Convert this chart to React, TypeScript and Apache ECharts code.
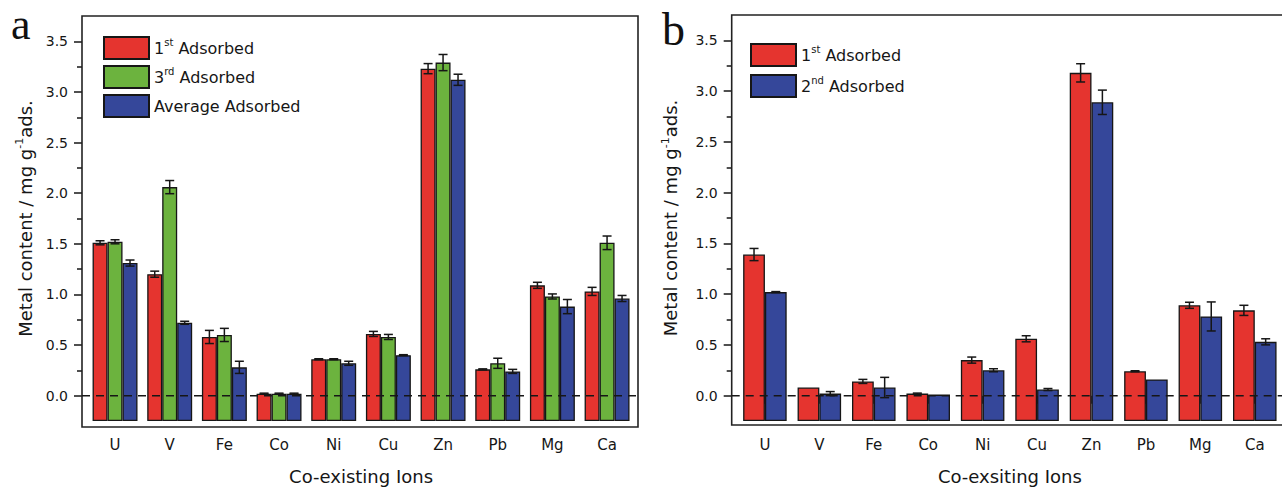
import React, { useEffect, useRef } from "react";
import * as echarts from "echarts";

const categories = ["U", "V", "Fe", "Co", "Ni", "Cu", "Zn", "Pb", "Mg", "Ca"];

// Panel a
const firstA = [1.51, 1.2, 0.58, 0.02, 0.36, 0.61, 3.23, 0.26, 1.09, 1.03];
const firstAErr = [0.02, 0.03, 0.065, 0.005, 0.005, 0.025, 0.05, 0.005, 0.03, 0.04];
const thirdA = [1.52, 2.06, 0.6, 0.02, 0.36, 0.58, 3.29, 0.32, 0.98, 1.51];
const thirdAErr = [0.02, 0.065, 0.065, 0.005, 0.005, 0.025, 0.08, 0.05, 0.025, 0.067];
const avgA = [1.31, 0.72, 0.28, 0.02, 0.32, 0.4, 3.12, 0.24, 0.88, 0.96];
const avgAErr = [0.03, 0.015, 0.06, 0.005, 0.02, 0.005, 0.055, 0.02, 0.07, 0.03];

// Panel b
const firstB = [1.39, 0.08, 0.14, 0.02, 0.35, 0.56, 3.18, 0.24, 0.89, 0.84];
const firstBErr = [0.06, 0, 0.02, 0.005, 0.03, 0.03, 0.09, 0.005, 0.03, 0.05];
const secondB = [1.02, 0.02, 0.08, 0.01, 0.25, 0.06, 2.89, 0.16, 0.78, 0.53];
const secondBErr = [0.005, 0.02, 0.1, 0, 0.015, 0.01, 0.12, 0, 0.143, 0.03];

const majorTicks = [0, 0.5, 1.0, 1.5, 2.0, 2.5, 3.0, 3.5];
const minorTicks = [0.25, 0.75, 1.25, 1.75, 2.25, 2.75, 3.25];

const RED = "#E5342F";
const GREEN = "#6CB33E";
const BLUE = "#35479A";
const INK = "#161616";
const FONT = "DejaVu Sans";

const supFmt = (s: string) => s.replace(/(\d)(st|nd|rd)/, "$1{sup|$2}");

function errorData(vals: number[], errs: number[]) {
  return vals.map((v, i) => [i, v - errs[i], v + errs[i]]);
}

function errRender(offsetIndex: number, widthFrac: number) {
  return (params: any, api: any) => {
    const idx = api.value(0);
    const lo = api.value(1);
    const hi = api.value(2);
    if (hi - lo <= 0.0001) return null;
    const band = api.size([1, 0])[0];
    const pLo = api.coord([idx, lo]);
    const pHi = api.coord([idx, hi]);
    const x = pLo[0] + offsetIndex * band * widthFrac;
    const c = 4.5;
    const style = { stroke: INK, lineWidth: 1.5 };
    return {
      type: "group",
      children: [
        { type: "line", shape: { x1: x, y1: pLo[1], x2: x, y2: pHi[1] }, style },
        { type: "line", shape: { x1: x - c, y1: pLo[1], x2: x + c, y2: pLo[1] }, style },
        { type: "line", shape: { x1: x - c, y1: pHi[1], x2: x + c, y2: pHi[1] }, style },
      ],
    };
  };
}

function barSeries(name: string, data: number[], color: string, xi: number, yi: number, width: string) {
  return {
    type: "bar",
    name,
    data,
    xAxisIndex: xi,
    yAxisIndex: yi,
    barWidth: width,
    barGap: "0%",
    itemStyle: { color, borderColor: INK, borderWidth: 1.3 },
    z: 2,
  };
}

function errSeries(vals: number[], errs: number[], xi: number, yi: number, off: number, frac: number) {
  return {
    type: "custom",
    xAxisIndex: xi,
    yAxisIndex: yi,
    data: errorData(vals, errs),
    encode: { x: 0, y: [1, 2] },
    renderItem: errRender(off, frac),
    z: 5,
    silent: true,
  };
}

function majorY(gridIndex: number, offset: number, nameGap: number) {
  return {
    type: "value",
    gridIndex,
    position: "left",
    offset,
    min: -0.25,
    max: 3.75,
    startValue: -0.25,
    interval: 0.25,
    axisLine: { show: false },
    splitLine: { show: false },
    axisTick: { show: true, length: 8, customValues: majorTicks, lineStyle: { color: INK, width: 1.5 } },
    axisLabel: {
      show: true,
      customValues: majorTicks,
      formatter: (v: number) => v.toFixed(1),
      fontFamily: FONT,
      fontSize: 14,
      color: INK,
      margin: 14,
    },
    name: "Metal content / mg g{sup|-1}ads.",
    nameLocation: "middle",
    nameRotate: 90,
    nameGap,
    nameTextStyle: {
      fontFamily: FONT,
      fontSize: 18,
      color: INK,
      rich: { sup: { fontFamily: FONT, fontSize: 11, color: INK, verticalAlign: "top", lineHeight: 22 } },
    },
  };
}

function minorY(gridIndex: number, offset: number) {
  return {
    type: "value",
    gridIndex,
    position: "left",
    offset,
    min: -0.25,
    max: 3.75,
    interval: 0.25,
    axisLine: { show: false },
    splitLine: { show: false },
    axisTick: { show: true, length: 5, customValues: minorTicks, lineStyle: { color: INK, width: 1.5 } },
    axisLabel: { show: false },
  };
}

function catX(gridIndex: number, name: string) {
  return {
    type: "category",
    gridIndex,
    data: categories,
    axisLine: { show: false },
    axisTick: { show: true, alignWithLabel: true, length: 8, lineStyle: { color: INK, width: 1.5 } },
    axisLabel: { fontFamily: FONT, fontSize: 15, color: INK, margin: 16 },
    splitLine: { show: false },
    name,
    nameLocation: "middle",
    nameGap: 46,
    nameTextStyle: { fontFamily: FONT, fontSize: 18, color: INK },
  };
}

function legendCfg(data: string[], left: number, top: number, gap: number) {
  return {
    data,
    left,
    top,
    orient: "vertical",
    itemWidth: 45,
    itemHeight: 22,
    itemGap: gap,
    padding: 0,
    icon: "rect",
    selectedMode: false,
    formatter: (n: string) => supFmt(n),
    textStyle: {
      fontFamily: FONT,
      fontSize: 16,
      color: INK,
      lineHeight: 22,
      rich: { sup: { fontFamily: FONT, fontSize: 10, color: INK, verticalAlign: "top", lineHeight: 22 } },
    },
  };
}

export default function App() {
  const ref = useRef<HTMLDivElement>(null);
  useEffect(() => {
    if (!ref.current) return;
    const chart = echarts.init(ref.current, null, { renderer: "svg" });
    const aLeft = 87.7, aWidth = 546.7, aTop = 16, aBottom = 427;
    const bLeft = 737.7, bWidth = 546.7, bTop = 15, bBottom = 425;
    const option: any = {
      animation: false,
      backgroundColor: "#ffffff",
      grid: [
        { left: aLeft, width: aWidth, top: aTop, height: aBottom - aTop, containLabel: false },
        { left: bLeft, width: bWidth, top: bTop, height: bBottom - bTop, containLabel: false },
      ],
      xAxis: [catX(0, "Co-existing Ions"), catX(1, "Co-exsiting Ions")],
      yAxis: [majorY(0, 5.7, 46), minorY(0, 5.7), majorY(1, 6, 50), minorY(1, 6)],
      legend: [
        legendCfg(["1st Adsorbed", "3rd Adsorbed", "Average Adsorbed"], 103, 36, 5),
        legendCfg(["1st Adsorbed", "2nd Adsorbed"], 750, 43, 7),
      ],
      series: [
        barSeries("1st Adsorbed", firstA, RED, 0, 0, "27.4%"),
        barSeries("3rd Adsorbed", thirdA, GREEN, 0, 0, "27.4%"),
        barSeries("Average Adsorbed", avgA, BLUE, 0, 0, "27.4%"),
        errSeries(firstA, firstAErr, 0, 0, -1, 0.274),
        errSeries(thirdA, thirdAErr, 0, 0, 0, 0.274),
        errSeries(avgA, avgAErr, 0, 0, 1, 0.274),
        barSeries("1st Adsorbed", firstB, RED, 1, 2, "40%"),
        barSeries("2nd Adsorbed", secondB, BLUE, 1, 2, "40%"),
        errSeries(firstB, firstBErr, 1, 2, -0.5, 0.4),
        errSeries(secondB, secondBErr, 1, 2, 0.5, 0.4),
      ],
    };
    chart.setOption(option);
    const y0a = chart.convertToPixel({ yAxisIndex: 0 } as any, 0) as number;
    const y0b = chart.convertToPixel({ yAxisIndex: 2 } as any, 0) as number;
    const frameStyle = { fill: "none", stroke: "#222", lineWidth: 1.6 };
    const dashStyle = { stroke: INK, lineWidth: 1.5, lineDash: [8, 6] };
    chart.setOption({
      graphic: [
        { type: "rect", z: 100, shape: { x: 82, y: aTop, width: 556, height: aBottom - aTop }, style: frameStyle, silent: true },
        { type: "rect", z: 100, shape: { x: 731.7, y: bTop, width: 620, height: bBottom - bTop }, style: frameStyle, silent: true },
        { type: "line", z: 100, shape: { x1: 82, y1: y0a, x2: 638, y2: y0a }, style: dashStyle, silent: true },
        { type: "line", z: 100, shape: { x1: 731.7, y1: y0b, x2: 1282, y2: y0b }, style: dashStyle, silent: true },
        { type: "text", z: 100, x: 11, y: 2, style: { text: "a", font: "44px 'Liberation Serif'", fill: "#111" } },
        { type: "text", z: 100, x: 662, y: 6, style: { text: "b", font: "46px 'Liberation Serif'", fill: "#111" } },
      ],
    });
    return () => chart.dispose();
  }, []);
  return <div ref={ref} style={{ position: "absolute", left: 0, top: 0, width: 1282, height: 490 }} />;
}
